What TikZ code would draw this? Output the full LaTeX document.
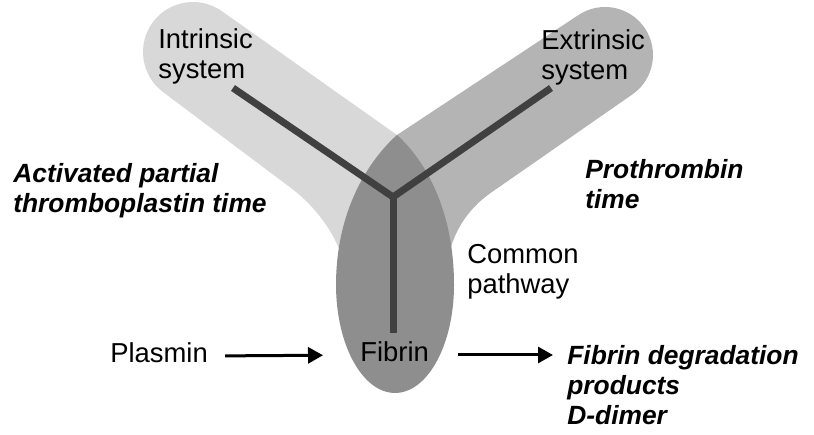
\documentclass[tikz,border=0pt]{standalone}
\usepackage{fontspec}
\setmainfont{Liberation Sans}
\usepackage{tikz}
\usetikzlibrary{arrows.meta}
\definecolor{intrgray}{RGB}{216,216,216}
\definecolor{extrgray}{RGB}{180,180,180}
\definecolor{commongray}{RGB}{142,142,142}
\definecolor{pathgray}{RGB}{64,64,64}
\tikzset{
  term/.style={anchor=north west, align=left, inner sep=0pt,
               font=\fontsize{15.6}{17}\selectfont},
  testname/.style={term, font=\fontsize{15}{17}\selectfont\bfseries\itshape},
  endterm/.style={anchor=base west, inner sep=0pt, text height=0.42cm,
                  text depth=0.14cm, font=\fontsize{15.6}{17}\selectfont},
  arrow/.style={-{Triangle[length=0.3cm, width=0.32cm]}, line width=0.06cm},
  pathway/.style={line width=0.14cm, draw=pathgray}
}

\begin{document}
\begin{tikzpicture}[x=0.02cm, y=0.02cm]
  \useasboundingbox (0,0) rectangle (814,435);
  \fill[intrgray] (223,423) -- (397,300) -- (425,278) -- (395,175) -- (345,160)
    .. controls (343,195) and (315,229) .. (291,247) -- (163,343)
    arc[start angle=233.13, end angle=53.13, radius=1cm] -- cycle;
  \fill[extrgray] (577.6,419.4) -- (397,300) -- (390,250) -- (400,170) -- (447,165)
    .. controls (449,200) and (468,226) .. (490,241.6) -- (632.4,340.6)
    arc[start angle=-55.2, end angle=124.8, radius=0.96cm] -- cycle;
  \fill[commongray] (397,300) .. controls (425,275) and (454,225) .. (454,150)
    arc[start angle=0, end angle=-180, x radius=1.18cm, y radius=2.16cm]
    .. controls (336,225) and (369,275) .. (397,300) -- cycle;

  \node[term] (intrinsic) at (158,407) {Intrinsic\\system};
  \node[term] (extrinsic) at (541,406) {Extrinsic\\system};
  \node[testname] (aptt) at (13,272) {Activated partial\\thromboplastin time};
  \node[testname] (pt) at (585,276) {Prothrombin\\time};
  \node[term] (common) at (467,191) {Common\\pathway};
  \node[endterm] (plasmin) at (110,72) {Plasmin};
  \node[endterm] (fibrin) at (360,73) {Fibrin};
  \node[testname] (fdp) at (567,90) {Fibrin degradation\\products\\D-dimer};

  \coordinate (intr) at (233,347);
  \coordinate (extr) at (551,347);
  \coordinate (junction) at (393,238);
  \draw[pathway] (intr) -- (junction) -- (extr);
  \draw[pathway, shorten >=0.16cm] (junction) -- (junction |- fibrin.north);

  \draw[arrow, shorten <=0.34cm, shorten >=0.74cm] (plasmin.east) -- (fibrin.west);
  \draw[arrow, shorten <=0.58cm, shorten >=0.28cm] (fibrin.east) -- (fibrin.east -| fdp.west);
\end{tikzpicture}
\end{document}
